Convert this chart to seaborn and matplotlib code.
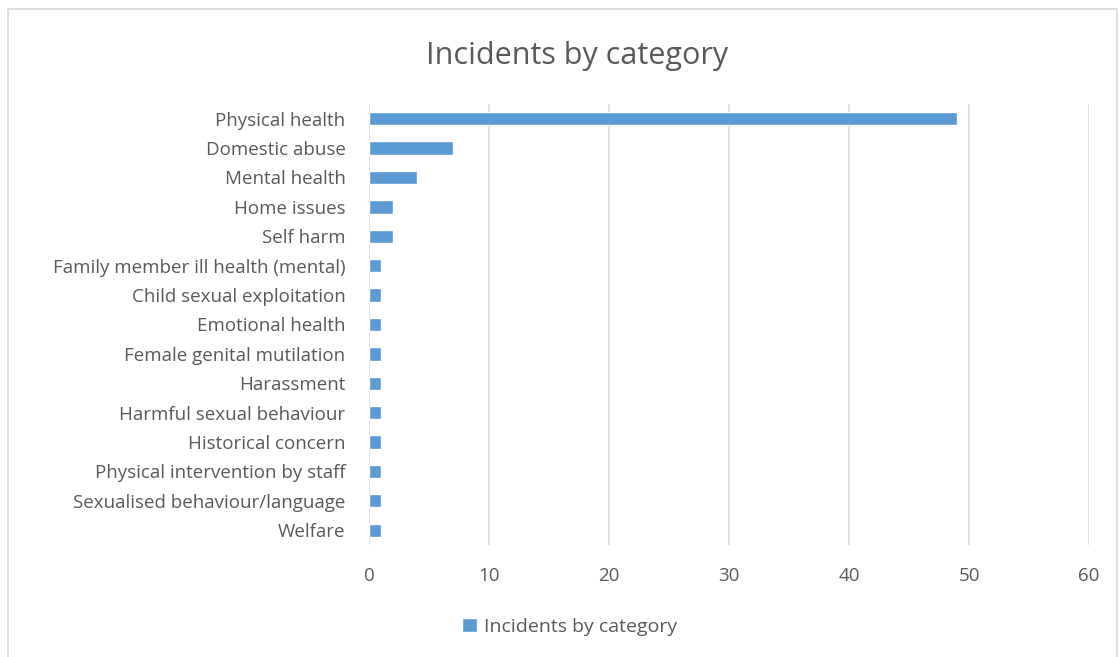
import matplotlib
matplotlib.use("Agg")
import matplotlib.pyplot as plt
import seaborn as sns
import pandas as pd
from matplotlib.patches import Rectangle

categories = [
    "Physical health", "Domestic abuse", "Mental health", "Home issues", "Self harm",
    "Family member ill health (mental)", "Child sexual exploitation", "Emotional health",
    "Female genital mutilation", "Harassment", "Harmful sexual behaviour",
    "Historical concern", "Physical intervention by staff",
    "Sexualised behaviour/language", "Welfare",
]
values = [49, 7, 4, 2, 2, 1, 1, 1, 1, 1, 1, 1, 1, 1, 1]
series_name = "Incidents by category"
x_ticks = [0, 10, 20, 30, 40, 50, 60]

sns.set_theme(style="white")
plt.rcParams['font.family'] = ['Open Sans', 'DejaVu Sans']
text_color = "#595959"

df = pd.DataFrame({"category": categories, "count": values})

fig = plt.figure(figsize=(11.19, 6.57), dpi=100)
ax = fig.add_axes([0.3298, 0.1705, 0.6434, 0.6712])

sns.barplot(data=df, x="count", y="category", orient="h", color="#5B9BD5",
            width=0.45, saturation=1, ax=ax, label=series_name, zorder=3)

ax.set_xlim(0, 60)
ax.set_xticks(x_ticks)
ax.set_xticklabels([str(t) for t in x_ticks], fontsize=13.5, color=text_color)
ax.tick_params(axis="y", labelsize=13.5, labelcolor=text_color, length=0, pad=17)
ax.tick_params(axis="x", length=0, pad=16)
ax.set_xlabel("")
ax.set_ylabel("")
ax.grid(axis="x", color="#D9D9D9", linewidth=1.2, zorder=0)
for s in ax.spines.values():
    s.set_visible(False)

fig.text(0.5157, 0.915, "Incidents by category", ha="center", va="center",
         fontsize=22, color=text_color)

handles, labels = ax.get_legend_handles_labels()
leg = fig.legend(handles, labels, loc="center", bbox_to_anchor=(0.509, 0.046),
                 frameon=False, fontsize=14, handlelength=0.75, handleheight=0.75,
                 handletextpad=0.35)
for t in leg.get_texts():
    t.set_color(text_color)
ax.get_legend() and ax.get_legend().remove()

fig.patches.append(Rectangle((8 / 1119, -0.1), (1117 - 8) / 1119, 1.1 - 9 / 657,
                             transform=fig.transFigure, fill=False,
                             edgecolor="#D9D9D9", linewidth=1.2))

fig.savefig("out.png", dpi=100, facecolor="white")
